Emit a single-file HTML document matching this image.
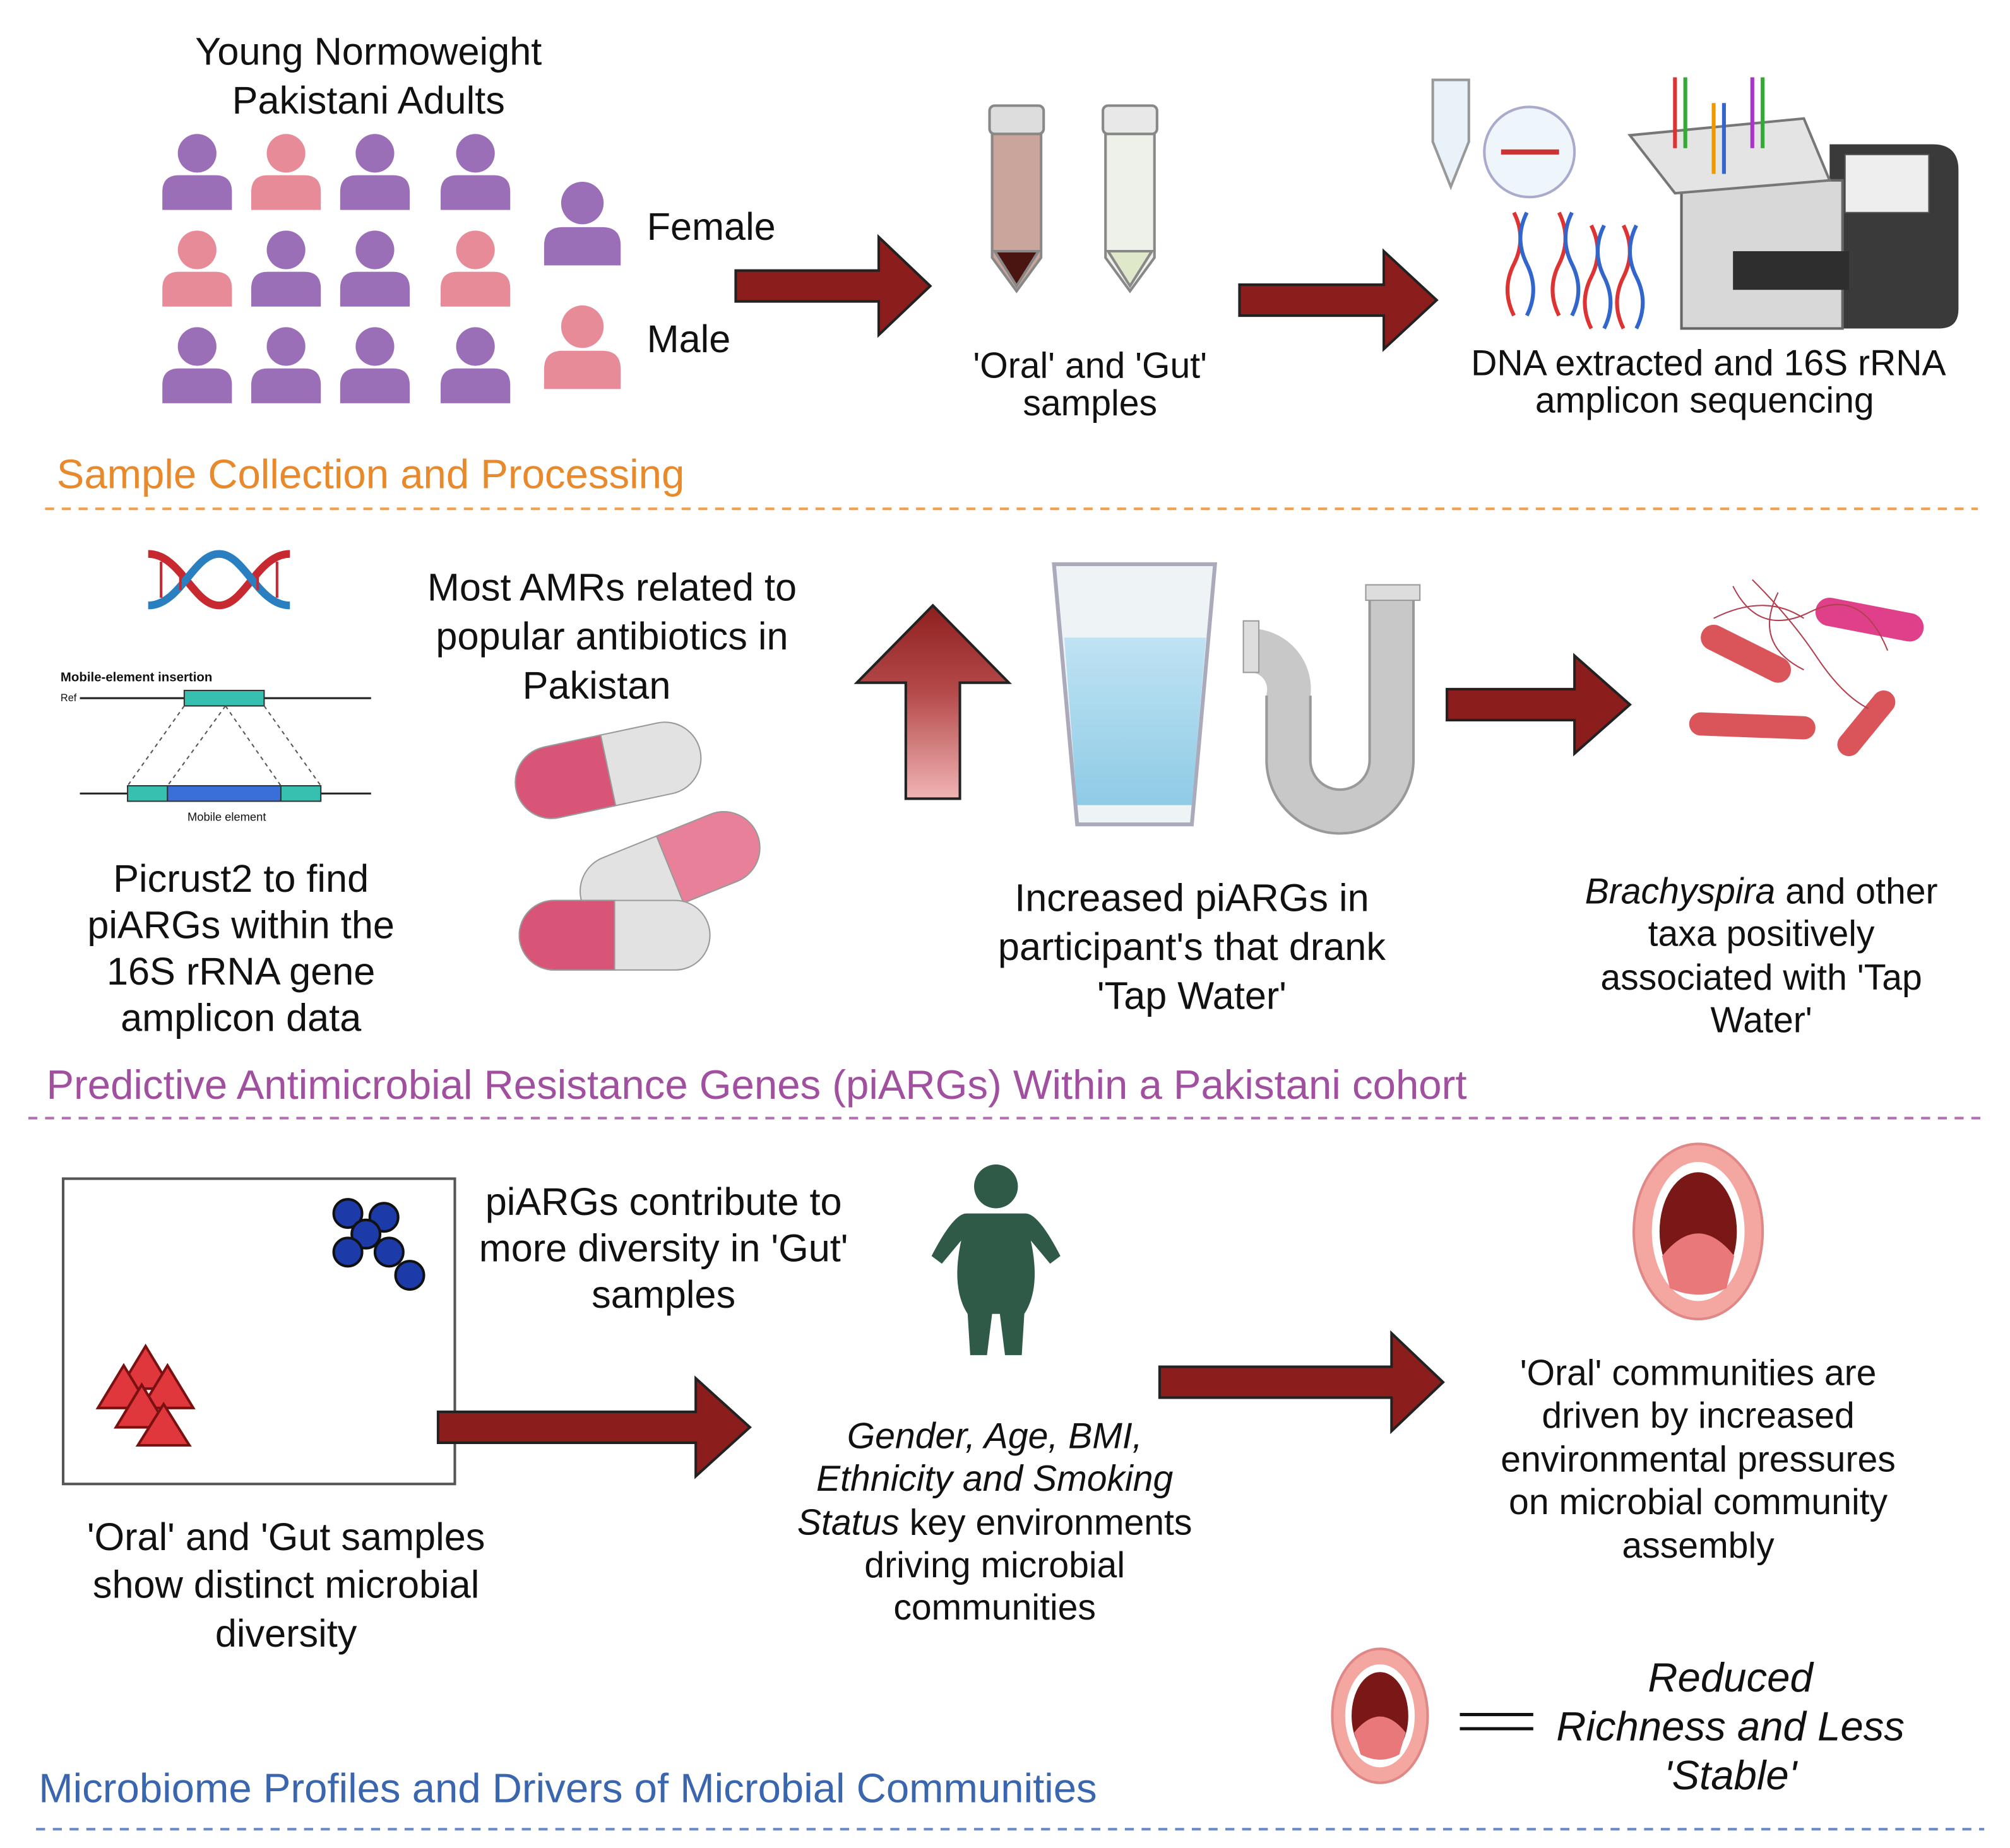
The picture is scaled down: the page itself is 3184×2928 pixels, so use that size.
<!DOCTYPE html>
<html><head><meta charset="utf-8"><style>
html,body{margin:0;padding:0;background:#fff;}
svg{display:block;}
text{font-family:"Liberation Sans",sans-serif;fill:#111;}
</style></head><body>
<svg width="3184" height="2928" viewBox="0 0 1560 1434.6" preserveAspectRatio="none" xmlns="http://www.w3.org/2000/svg">
<defs>
<g id="person"><circle cx="0" cy="16" r="15"/><path d="M-27,60 L-27,46 Q-27,33 -14,33 L14,33 Q27,33 27,46 L27,60 Z"/></g>
<linearGradient id="upg" x1="0" y1="0" x2="0" y2="1"><stop offset="0" stop-color="#8e1f1f"/><stop offset="0.45" stop-color="#b54a4a"/><stop offset="1" stop-color="#f0b4b4"/></linearGradient>
<linearGradient id="water" x1="0" y1="0" x2="0" y2="1"><stop offset="0" stop-color="#bfe3f3"/><stop offset="1" stop-color="#8fcbe6"/></linearGradient>
</defs>

<text x="286" y="40" font-size="30" text-anchor="middle" dominant-baseline="central">Young Normoweight</text>
<text x="286" y="78" font-size="30" text-anchor="middle" dominant-baseline="central">Pakistani Adults</text>
<g fill="#9b6fb8"><use href="#person" x="153" y="103"/></g>
<g fill="#e88b98"><use href="#person" x="222" y="103"/></g>
<g fill="#9b6fb8"><use href="#person" x="291" y="103"/><use href="#person" x="369" y="103"/></g>
<g fill="#e88b98"><use href="#person" x="153" y="178"/></g>
<g fill="#9b6fb8"><use href="#person" x="222" y="178"/><use href="#person" x="291" y="178"/></g>
<g fill="#e88b98"><use href="#person" x="369" y="178"/></g>
<g fill="#9b6fb8"><use href="#person" x="153" y="253"/><use href="#person" x="222" y="253"/><use href="#person" x="291" y="253"/><use href="#person" x="369" y="253"/></g>
<g fill="#9b6fb8"><use href="#person" transform="translate(452,140) scale(1.1)"/></g>
<g fill="#e88b98"><use href="#person" transform="translate(452,236) scale(1.1)"/></g>
<text x="502" y="176" font-size="30" dominant-baseline="central">Female</text>
<text x="502" y="263" font-size="30" dominant-baseline="central">Male</text>

<g fill="#8b1d1d" stroke="#222" stroke-width="2">
<path d="M571,210 L682,210 L682,184 L722,222 L682,260 L682,234 L571,234 Z"/>
<path d="M962,221 L1074,221 L1074,195 L1115,233 L1074,271 L1074,245 L962,245 Z"/>
</g>
<g stroke="#888" stroke-width="2">
<rect x="768" y="82" width="42" height="22" rx="4" fill="#ddd"/>
<path d="M770,104 L808,104 L808,200 L789,226 L770,200 Z" fill="#c9a59b"/>
<path d="M772,195 L806,195 L789,222 Z" fill="#4a1410"/>
<rect x="856" y="82" width="42" height="22" rx="4" fill="#e8e8e8"/>
<path d="M858,104 L896,104 L896,200 L877,226 L858,200 Z" fill="#eef0ea"/>
<path d="M860,195 L894,195 L877,222 Z" fill="#dfe8c8"/>
</g>
<text x="846" y="284" font-size="28" text-anchor="middle" dominant-baseline="central">'Oral' and 'Gut'</text>
<text x="846" y="313" font-size="28" text-anchor="middle" dominant-baseline="central">samples</text>
<path d="M1112,62 L1140,62 L1140,110 L1126,145 L1112,110 Z" fill="#e8f2f8" stroke="#999" stroke-width="2"/>
<circle cx="1187" cy="118" r="35" fill="#eef6fc" stroke="#aac" stroke-width="2"/>
<path d="M1165,118 L1210,118" stroke="#c33" stroke-width="4"/>
<g stroke-width="3" fill="none">
<path d="M1175,165 q10,20 0,40 t0,40" stroke="#d33"/><path d="M1185,165 q-10,20 0,40 t0,40" stroke="#36c"/>
<path d="M1210,165 q10,20 0,40 t0,40" stroke="#d33"/><path d="M1220,165 q-10,20 0,40 t0,40" stroke="#36c"/>
<path d="M1235,175 q10,20 0,40 t0,40" stroke="#d33"/><path d="M1245,175 q-10,20 0,40 t0,40" stroke="#36c"/>
<path d="M1260,175 q10,20 0,40 t0,40" stroke="#d33"/><path d="M1270,175 q-10,20 0,40 t0,40" stroke="#36c"/>
</g>
<!-- sequencer -->
<path d="M1400,112 L1500,112 Q1520,112 1520,132 L1520,240 Q1520,255 1505,255 L1420,255 L1420,112 Z" fill="#3a3a3a"/>
<rect x="1432" y="120" width="65" height="45" fill="#eee" stroke="#555"/>
<rect x="1305" y="140" width="125" height="115" fill="#d8d8d8" stroke="#666" stroke-width="2"/>
<rect x="1345" y="195" width="90" height="30" fill="#2e2e2e"/>
<path d="M1265,105 L1400,92 L1420,140 L1300,150 Z" fill="#e4e4e4" stroke="#777" stroke-width="2"/>
<g stroke-width="3"><path d="M1300,60 L1300,115" stroke="#d33"/><path d="M1308,60 L1308,115" stroke="#3a3"/><path d="M1330,80 L1330,135" stroke="#e90"/><path d="M1338,80 L1338,135" stroke="#36c"/><path d="M1360,60 L1360,115" stroke="#a3c"/><path d="M1368,60 L1368,115" stroke="#3a3"/></g>
<text x="1326" y="282" font-size="28" text-anchor="middle" dominant-baseline="central">DNA extracted and 16S rRNA</text>
<text x="1323" y="311" font-size="28" text-anchor="middle" dominant-baseline="central">amplicon sequencing</text>
<text x="44" y="368" font-size="32" style="fill:#e8892b" dominant-baseline="central">Sample Collection and Processing</text>
<line x1="35" y1="395" x2="1535" y2="395" stroke="#f0a050" stroke-width="2" stroke-dasharray="7,6"/>

<g fill="none" stroke-width="6"><path d="M115,430 C140,430 150,470 170,470 C190,470 200,430 225,430" stroke="#c82830"/><path d="M115,470 C140,470 150,430 170,430 C190,430 200,470 225,470" stroke="#2a7fc0"/></g>
<g stroke="#c82830" stroke-width="2"><line x1="125" y1="436" x2="125" y2="464"/><line x1="140" y1="442" x2="140" y2="458"/><line x1="200" y1="442" x2="200" y2="458"/><line x1="215" y1="436" x2="215" y2="464"/></g>
<text x="47" y="526" font-size="10" font-weight="bold" dominant-baseline="central">Mobile-element insertion</text>
<text x="47" y="542" font-size="8" dominant-baseline="central">Ref</text>
<line x1="62" y1="542" x2="288" y2="542" stroke="#222" stroke-width="1.5"/>
<rect x="143" y="536" width="62" height="12" fill="#35c0b0" stroke="#333"/>
<g stroke="#555" stroke-dasharray="3,3"><line x1="143" y1="548" x2="99" y2="610"/><line x1="175" y1="548" x2="130" y2="610"/><line x1="175" y1="548" x2="218" y2="610"/><line x1="205" y1="548" x2="249" y2="610"/></g>
<line x1="62" y1="616" x2="288" y2="616" stroke="#222" stroke-width="1.5"/>
<rect x="99" y="610" width="31" height="12" fill="#35c0b0" stroke="#333"/><rect x="130" y="610" width="88" height="12" fill="#3a6ed8" stroke="#333"/><rect x="218" y="610" width="31" height="12" fill="#35c0b0" stroke="#333"/>
<text x="176" y="634" font-size="9" text-anchor="middle" dominant-baseline="central">Mobile element</text>
<g font-size="30" text-anchor="middle" dominant-baseline="central">
<text x="187" y="682">Picrust2 to find</text><text x="187" y="718">piARGs within the</text><text x="187" y="754">16S rRNA gene</text><text x="187" y="790">amplicon data</text>
<text x="475" y="456">Most AMRs related to</text><text x="475" y="494">popular antibiotics in</text><text x="463" y="532">Pakistan</text>
<text x="925" y="697">Increased piARGs in</text><text x="925" y="735">participant's that drank</text><text x="925" y="773">'Tap Water'</text>
</g>
<g stroke="#999" stroke-width="1">
<g transform="translate(472,598) rotate(-12)"><rect x="-73" y="-28" width="146" height="56" rx="28" fill="#e2e2e2"/><path d="M0,-28 L-45,-28 A28,28 0 0 0 -45,28 L0,28 Z" fill="#d95578"/></g>
<g transform="translate(520,675) rotate(-22)"><rect x="-73" y="-28" width="146" height="56" rx="28" fill="#e2e2e2"/><path d="M0,-28 L45,-28 A28,28 0 0 1 45,28 L0,28 Z" fill="#e8809a"/></g>
<g transform="translate(477,726)"><rect x="-74" y="-27" width="148" height="54" rx="27" fill="#e2e2e2"/><path d="M0,-27 L-47,-27 A27,27 0 0 0 -47,27 L0,27 Z" fill="#d95578"/></g>
</g>
<path d="M703,620 L703,530 L665,530 L724,470 L783,530 L745,530 L745,620 Z" fill="url(#upg)" stroke="#222" stroke-width="2"/>
<path d="M818,438 L943,438 L925,640 L836,640 Z" fill="#eef3f6" stroke="#aab" stroke-width="3"/>
<path d="M826,495 L936,495 L925,625 L836,625 Z" fill="url(#water)"/>
<g fill="none" stroke="#c8c8c8" stroke-linecap="butt">
<path d="M1080,462 L1080,590 A40,40 0 0 1 1000,590 L1000,540 A30,30 0 0 0 970,505" stroke-width="34"/>
</g>
<g fill="none" stroke="#999" stroke-width="2"><path d="M1097,462 L1097,590 A57,57 0 0 1 983,590 L983,540"/><path d="M1063,462 L1063,590 A23,23 0 0 1 1017,590 L1017,540"/></g>
<rect x="1060" y="454" width="42" height="12" fill="#ddd" stroke="#999"/>
<rect x="965" y="482" width="12" height="40" fill="#ddd" stroke="#999"/>
<path d="M1123,535 L1222,535 L1222,509 L1265,547 L1222,585 L1222,559 L1123,559 Z" fill="#8b1d1d" stroke="#222" stroke-width="2"/>
<g stroke-linecap="round">
<line x1="1330" y1="495" x2="1380" y2="520" stroke="#d9555a" stroke-width="20"/>
<line x1="1320" y1="562" x2="1400" y2="565" stroke="#d9555a" stroke-width="18"/>
<line x1="1435" y1="578" x2="1462" y2="545" stroke="#d9555a" stroke-width="18"/>
<line x1="1420" y1="475" x2="1482" y2="487" stroke="#e0408a" stroke-width="22"/>
</g>
<g fill="none" stroke="#b04050" stroke-width="1"><path d="M1345,455 q20,40 60,20 t60,30"/><path d="M1360,450 q30,30 50,60 t40,40"/><path d="M1380,460 q-20,40 20,60"/><path d="M1330,480 q40,-20 70,0"/></g>
<g font-size="28" text-anchor="middle" dominant-baseline="central">
<text x="1367" y="692"><tspan font-style="italic">Brachyspira</tspan> and other</text><text x="1367" y="725">taxa positively</text><text x="1367" y="759">associated with 'Tap</text><text x="1367" y="792">Water'</text>
</g>
<text x="36" y="842" font-size="32" style="fill:#a0509e" dominant-baseline="central">Predictive Antimicrobial Resistance Genes (piARGs) Within a Pakistani cohort</text>
<line x1="22" y1="868" x2="1540" y2="868" stroke="#b070b0" stroke-width="2" stroke-dasharray="7,6"/>

<rect x="49" y="915" width="304" height="237" fill="#fff" stroke="#555" stroke-width="2"/>
<g fill="#1c3aa8" stroke="#111" stroke-width="2"><circle cx="270" cy="942" r="11"/><circle cx="298" cy="945" r="11"/><circle cx="284" cy="958" r="11"/><circle cx="270" cy="972" r="11"/><circle cx="302" cy="972" r="11"/><circle cx="318" cy="990" r="11"/></g>
<g fill="#e0373c" stroke="#7a1010" stroke-width="2"><path d="M113,1045 L133,1078 L93,1078 Z"/><path d="M96,1060 L116,1093 L76,1093 Z"/><path d="M130,1060 L150,1093 L110,1093 Z"/><path d="M110,1075 L130,1108 L90,1108 Z"/><path d="M127,1090 L147,1122 L107,1122 Z"/></g>
<path d="M340,1096 L540,1096 L540,1070 L582,1108 L540,1146 L540,1120 L340,1120 Z" fill="#8b1d1d" stroke="#222" stroke-width="2"/>
<g font-size="30" text-anchor="middle" dominant-baseline="central">
<text x="515" y="933">piARGs contribute to</text><text x="515" y="969">more diversity in 'Gut'</text><text x="515" y="1005">samples</text>
<text x="222" y="1193">'Oral' and 'Gut samples</text><text x="222" y="1230">show distinct microbial</text><text x="222" y="1268">diversity</text>
</g>
<g fill="#2f5a48"><circle cx="773" cy="921" r="17"/><path d="M750,942 L796,942 Q806,942 823,975 L815,981 L800,963 Q808,1000 795,1020 L793,1052 L780,1052 L776,1020 L770,1020 L766,1052 L753,1052 L751,1020 Q738,1000 746,963 L731,981 L723,975 Q740,942 750,942 Z"/></g>
<path d="M900,1061 L1080,1061 L1080,1035 L1120,1073 L1080,1111 L1080,1085 L900,1085 Z" fill="#8b1d1d" stroke="#222" stroke-width="2"/>
<g><ellipse cx="1318" cy="956" rx="50" ry="68" fill="#f4a6a0" stroke="#e08888" stroke-width="2"/><ellipse cx="1318" cy="956" rx="36" ry="54" fill="#fff"/><ellipse cx="1318" cy="956" rx="30" ry="46" fill="#7a1818"/><path d="M1290,975 Q1318,940 1346,975 L1340,1000 Q1318,1010 1296,1000 Z" fill="#e8787a"/></g>
<g font-size="28" text-anchor="middle" dominant-baseline="central">
<text x="772" y="1115" font-style="italic">Gender, Age, BMI,</text><text x="772" y="1148" font-style="italic">Ethnicity and Smoking</text><text x="772" y="1182"><tspan font-style="italic">Status</tspan>  key environments</text><text x="772" y="1215">driving microbial</text><text x="772" y="1248">communities</text>
<text x="1318" y="1066">'Oral' communities are</text><text x="1318" y="1099">driven by increased</text><text x="1318" y="1133">environmental pressures</text><text x="1318" y="1166">on microbial community</text><text x="1318" y="1200">assembly</text>
</g>
<g><ellipse cx="1071" cy="1332" rx="37" ry="52" fill="#f4a6a0" stroke="#e08888" stroke-width="2"/><ellipse cx="1071" cy="1332" rx="27" ry="40" fill="#fff"/><ellipse cx="1071" cy="1332" rx="22" ry="34" fill="#7a1818"/><path d="M1051,1345 Q1071,1320 1091,1345 L1086,1362 Q1071,1370 1056,1362 Z" fill="#e8787a"/></g>
<line x1="1133" y1="1331" x2="1190" y2="1331" stroke="#111" stroke-width="2.5"/><line x1="1133" y1="1342" x2="1190" y2="1342" stroke="#111" stroke-width="2.5"/>
<g font-size="32" text-anchor="middle" dominant-baseline="central" font-style="italic">
<text x="1343" y="1302">Reduced</text><text x="1343" y="1340">Richness and Less</text><text x="1343" y="1378">'Stable'</text>
</g>
<text x="30" y="1388" font-size="32" style="fill:#3a66b0" dominant-baseline="central">Microbiome Profiles and Drivers of Microbial Communities</text>
<line x1="28" y1="1420" x2="1540" y2="1420" stroke="#6a8ac8" stroke-width="2" stroke-dasharray="7,6"/>
</svg>
</body></html>
